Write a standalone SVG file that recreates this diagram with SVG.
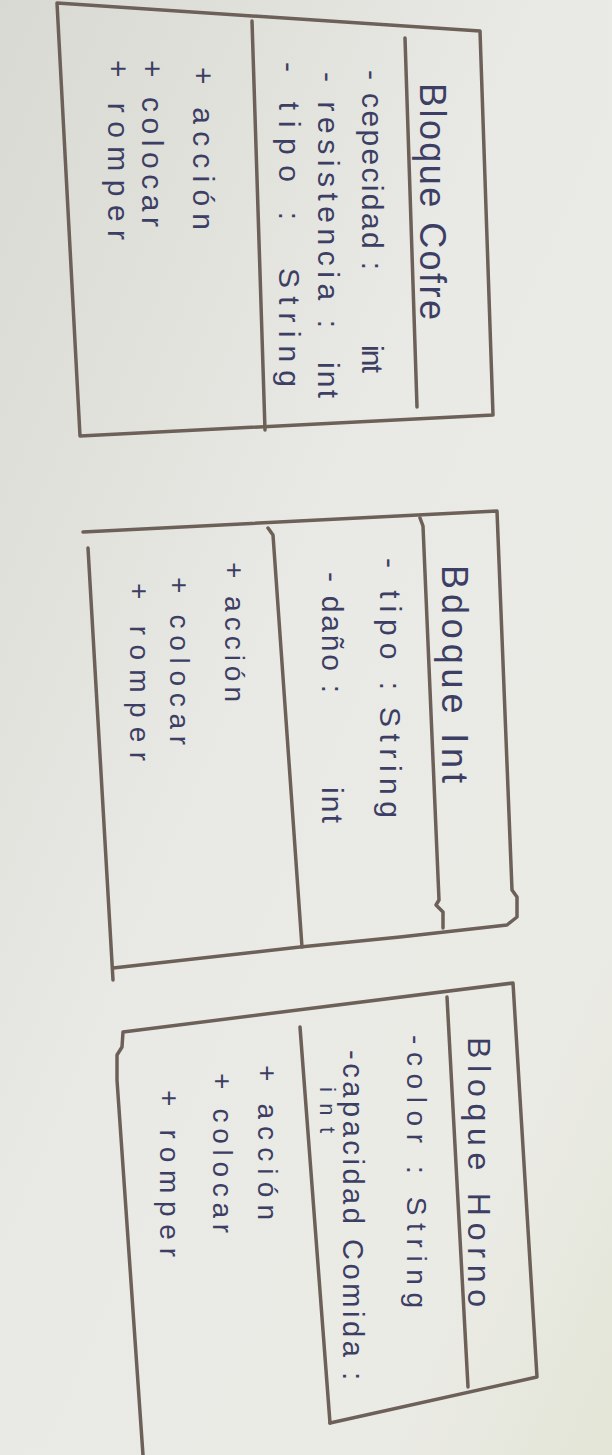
<svg xmlns="http://www.w3.org/2000/svg" width="612" height="1455" viewBox="0 0 612 1455">
<defs>
<linearGradient id="paper" x1="0" y1="0" x2="1" y2="1">
<stop offset="0" stop-color="#d9d9d3"/>
<stop offset="0.45" stop-color="#e9e9e5"/>
<stop offset="0.8" stop-color="#ebebe6"/>
<stop offset="1" stop-color="#e3e5d6"/>
</linearGradient>
<style>
.ln{fill:none;stroke:#6c6058;stroke-width:3.5;stroke-linecap:round;stroke-linejoin:round}
.t{font-family:"Liberation Sans",Arial,sans-serif;fill:#3c3e64}
.ti{font-size:34px}
.at{font-size:30px}
.me{font-size:30px}
</style>
</defs>
<rect width="612" height="1455" fill="url(#paper)"/>
<g id="connectors"></g>

<g id="bloque-cofre">
<polyline class="ln" points="57,3 480,31 493,415 80,436 57,3"/>
<polyline class="ln" points="405,38 417,407"/>
<polyline class="ln" points="252,21 265,430"/>
<g class="t">
<text class="ti" style="font-size:36px" transform="translate(420,83) rotate(90)" textLength="237" lengthAdjust="spacing">Bloque Cofre</text>
<text class="at" transform="translate(362,70) rotate(90)" textLength="200" lengthAdjust="spacing">- cepecidad :</text>
<text class="at" transform="translate(362,345) rotate(90)" textLength="28" lengthAdjust="spacing">int</text>
<text class="at" transform="translate(318,72) rotate(90)" textLength="256" lengthAdjust="spacing">- resistencia :</text>
<text class="at" transform="translate(318,362) rotate(90)" textLength="36" lengthAdjust="spacing">int</text>
<text class="at" transform="translate(279,62) rotate(90)" textLength="158" lengthAdjust="spacing">- tipo :</text>
<text class="at" transform="translate(279,268) rotate(90)" textLength="119" lengthAdjust="spacing">String</text>
<text class="me" transform="translate(193,67) rotate(90)" textLength="163" lengthAdjust="spacing">+ acción</text>
<text class="me" transform="translate(142,60) rotate(90)" textLength="167" lengthAdjust="spacing">+ colocar</text>
<text class="me" transform="translate(108,60) rotate(90)" textLength="180" lengthAdjust="spacing">+ romper</text>
</g>
</g>

<g id="bloque-int">
<polyline class="ln" points="83,532 497,511 512,890 517,897 517,917 507,925 400,937 300,947 113,968"/>
<polyline class="ln" points="88,548 113,980"/>
<polyline class="ln" points="268,528 273,535 302,947"/>
<polyline class="ln" points="420,518 423,526 439,900 436,905 443,912 443,928"/>
<g class="t">
<text class="ti" style="font-size:36px" transform="translate(442,565) rotate(90)" textLength="218" lengthAdjust="spacing">Bdoque Int</text>
<text class="at" transform="translate(380,558) rotate(90)" textLength="132" lengthAdjust="spacing">- tipo :</text>
<text class="at" transform="translate(380,707) rotate(90)" textLength="111" lengthAdjust="spacing">String</text>
<text class="at" transform="translate(322,572) rotate(90)" textLength="121" lengthAdjust="spacing">- daño :</text>
<text class="at" transform="translate(322,787) rotate(90)" textLength="36" lengthAdjust="spacing">int</text>
<text class="me" style="font-size:28px" transform="translate(225,562) rotate(90)" textLength="140" lengthAdjust="spacing">+ acción</text>
<text class="me" style="font-size:28px" transform="translate(170,577) rotate(90)" textLength="168" lengthAdjust="spacing">+ colocar</text>
<text class="me" style="font-size:28px" transform="translate(130,583) rotate(90)" textLength="178" lengthAdjust="spacing">+ romper</text>
</g>
</g>

<g id="bloque-horno">
<polyline class="ln" points="143,1455 117,1080 117,1055 122,1047 123,1032 513,983 537,1377 330,1423"/>
<polyline class="ln" points="447,997 468,1387"/>
<polyline class="ln" points="300,1027 330,1423"/>
<g class="t">
<text class="ti" style="font-size:32px" transform="translate(468,1037) rotate(90)" textLength="270" lengthAdjust="spacing">Bloque Horno</text>
<text class="at" style="font-size:28px" transform="translate(407,1035) rotate(90)" textLength="273" lengthAdjust="spacing">-color : String</text>
<text class="at" style="font-size:29px" transform="translate(343,1050) rotate(90)" textLength="330" lengthAdjust="spacing">-capacidad Comida :</text>
<text class="at" style="font-size:22px" transform="translate(320,1087) rotate(90)" textLength="46" lengthAdjust="spacing">int</text>
<text class="me" style="font-size:28px" transform="translate(258,1065) rotate(90)" textLength="155" lengthAdjust="spacing">+ acción</text>
<text class="me" style="font-size:28px" transform="translate(213,1073) rotate(90)" textLength="160" lengthAdjust="spacing">+ colocar</text>
<text class="me" style="font-size:28px" transform="translate(160,1090) rotate(90)" textLength="167" lengthAdjust="spacing">+ romper</text>
</g>
</g>
</svg>
